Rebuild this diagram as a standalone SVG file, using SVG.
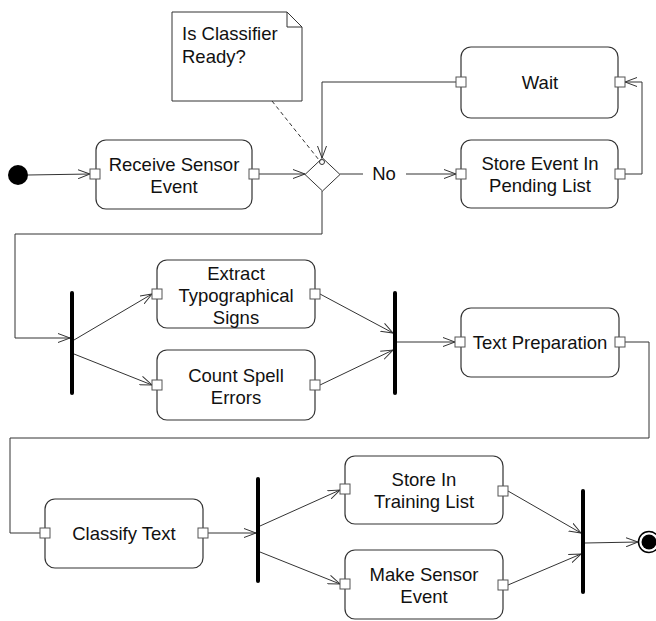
<svg xmlns="http://www.w3.org/2000/svg" width="656" height="621" viewBox="0 0 656 621">
<defs>
<marker id="arr" viewBox="0 0 12 10" refX="12" refY="5" markerWidth="12" markerHeight="10" markerUnits="userSpaceOnUse" orient="auto">
<path d="M0,0.5 L12,5 L0,9.5" fill="none" stroke="#333" stroke-width="1"/>
</marker>
</defs>
<style>
.box{fill:#fff;stroke:#333;stroke-width:1.2}
.port{fill:#fff;stroke:#555;stroke-width:1}
.lbl{font-family:"Liberation Sans",Arial,sans-serif;font-size:18.5px;fill:#111;text-anchor:middle}
.c{fill:none;stroke:#333;stroke-width:1}
.bar{stroke:#000;stroke-width:4;stroke-linecap:round}
</style>
<rect width="656" height="621" fill="#fff"/>

<g id="connectors">
<line class="c" x1="28" y1="175" x2="90" y2="174" marker-end="url(#arr)"/>
<line class="c" x1="259" y1="174" x2="305" y2="174" marker-end="url(#arr)"/>
<line class="c" x1="272" y1="101" x2="319" y2="160" stroke-dasharray="4,3"/>
<line class="c" x1="340" y1="174" x2="363" y2="174"/>
<line class="c" x1="406" y1="174" x2="456" y2="174" marker-end="url(#arr)"/>
<polyline class="c" points="625,174 642,174 642,82 625,82" marker-end="url(#arr)"/>
<polyline class="c" points="456,82 322,82 322,158" marker-end="url(#arr)"/>
<polyline class="c" points="322,191 322,234 15,234 15,338 70,338" marker-end="url(#arr)"/>
<line class="c" x1="74" y1="340" x2="152" y2="294" marker-end="url(#arr)"/>
<line class="c" x1="74" y1="354" x2="152" y2="385" marker-end="url(#arr)"/>
<line class="c" x1="320" y1="294" x2="393" y2="333" marker-end="url(#arr)"/>
<line class="c" x1="320" y1="385" x2="393" y2="350" marker-end="url(#arr)"/>
<line class="c" x1="397" y1="342" x2="455" y2="342" marker-end="url(#arr)"/>
<polyline class="c" points="625,342 649,342 649,438 10,438 10,533 40,533"/>
<line class="c" x1="208" y1="533" x2="256" y2="533" marker-end="url(#arr)"/>
<line class="c" x1="260" y1="526" x2="340" y2="490" marker-end="url(#arr)"/>
<line class="c" x1="260" y1="552" x2="340" y2="584" marker-end="url(#arr)"/>
<line class="c" x1="508" y1="491" x2="581" y2="533" marker-end="url(#arr)"/>
<line class="c" x1="508" y1="585" x2="581" y2="554" marker-end="url(#arr)"/>
<line class="c" x1="585" y1="543" x2="638" y2="542" marker-end="url(#arr)"/>
</g>

<g id="start"><circle cx="18" cy="175" r="10" fill="#000"/></g>

<g id="note">
<path d="M172,12 L287,12 L302,27 L302,101 L172,101 Z" fill="#fff" stroke="#333" stroke-width="1"/>
<path d="M287,12 L287,27 L302,27" fill="none" stroke="#333" stroke-width="1"/>
<text x="182" y="40" class="lbl" style="text-anchor:start">Is Classifier</text>
<text x="182" y="63" class="lbl" style="text-anchor:start">Ready?</text>
</g>

<g id="receive">
<rect class="box" x="96" y="140" width="156" height="69" rx="10"/>
<rect class="port" x="90" y="169" width="10" height="10"/>
<rect class="port" x="249" y="169" width="10" height="10"/>
<text x="174" y="171" class="lbl">Receive Sensor</text>
<text x="174" y="193" class="lbl">Event</text>
</g>

<g id="decision">
<path d="M322.5,158 L340,174.5 L322.5,191 L305,174.5 Z" fill="#fff" stroke="#333" stroke-width="1"/>
<circle cx="322" cy="162" r="2.5" fill="#fff" stroke="#333" stroke-width="1"/>
</g>

<g id="no-label"><text x="384" y="180" class="lbl">No</text></g>

<g id="wait">
<rect class="box" x="461" y="47" width="157" height="71" rx="10"/>
<rect class="port" x="456" y="77" width="10" height="10"/>
<rect class="port" x="615" y="77" width="10" height="10"/>
<text x="540" y="89" class="lbl">Wait</text>
</g>

<g id="store-pending">
<rect class="box" x="461" y="140" width="157" height="68" rx="10"/>
<rect class="port" x="456" y="169" width="10" height="10"/>
<rect class="port" x="615" y="169" width="10" height="10"/>
<text x="540" y="170" class="lbl">Store Event In</text>
<text x="540" y="192" class="lbl">Pending List</text>
</g>

<g id="fork1"><line class="bar" x1="72" y1="293" x2="72" y2="393"/></g>

<g id="extract">
<rect class="box" x="157" y="260" width="158" height="68" rx="10"/>
<rect class="port" x="152" y="289" width="10" height="10"/>
<rect class="port" x="310" y="289" width="10" height="10"/>
<text x="236" y="280" class="lbl">Extract</text>
<text x="236" y="302" class="lbl">Typographical</text>
<text x="236" y="324" class="lbl">Signs</text>
</g>

<g id="count">
<rect class="box" x="157" y="350" width="158" height="70" rx="10"/>
<rect class="port" x="152" y="380" width="10" height="10"/>
<rect class="port" x="310" y="380" width="10" height="10"/>
<text x="236" y="382" class="lbl">Count Spell</text>
<text x="236" y="404" class="lbl">Errors</text>
</g>

<g id="join1"><line class="bar" x1="395" y1="293" x2="395" y2="393"/></g>

<g id="textprep">
<rect class="box" x="461" y="308" width="158" height="69" rx="10"/>
<rect class="port" x="455" y="337" width="10" height="10"/>
<rect class="port" x="615" y="337" width="10" height="10"/>
<text x="540" y="349" class="lbl">Text Preparation</text>
</g>

<g id="classify">
<rect class="box" x="45" y="499" width="158" height="69" rx="10"/>
<rect class="port" x="40" y="528" width="10" height="10"/>
<rect class="port" x="198" y="528" width="10" height="10"/>
<text x="124" y="540" class="lbl">Classify Text</text>
</g>

<g id="fork2"><line class="bar" x1="258" y1="479" x2="258" y2="581"/></g>

<g id="store-training">
<rect class="box" x="345" y="456" width="158" height="68" rx="10"/>
<rect class="port" x="340" y="484" width="10" height="10"/>
<rect class="port" x="498" y="486" width="10" height="10"/>
<text x="424" y="486" class="lbl">Store In</text>
<text x="424" y="508" class="lbl">Training List</text>
</g>

<g id="make-sensor">
<rect class="box" x="345" y="550" width="158" height="69" rx="10"/>
<rect class="port" x="340" y="579" width="10" height="10"/>
<rect class="port" x="498" y="580" width="10" height="10"/>
<text x="424" y="581" class="lbl">Make Sensor</text>
<text x="424" y="603" class="lbl">Event</text>
</g>

<g id="join2"><line class="bar" x1="583" y1="491" x2="583" y2="592"/></g>

<g id="end">
<circle cx="649" cy="542" r="10.5" fill="#fff" stroke="#000" stroke-width="1.5"/>
<circle cx="649" cy="542" r="7.5" fill="#000"/>
</g>
</svg>
